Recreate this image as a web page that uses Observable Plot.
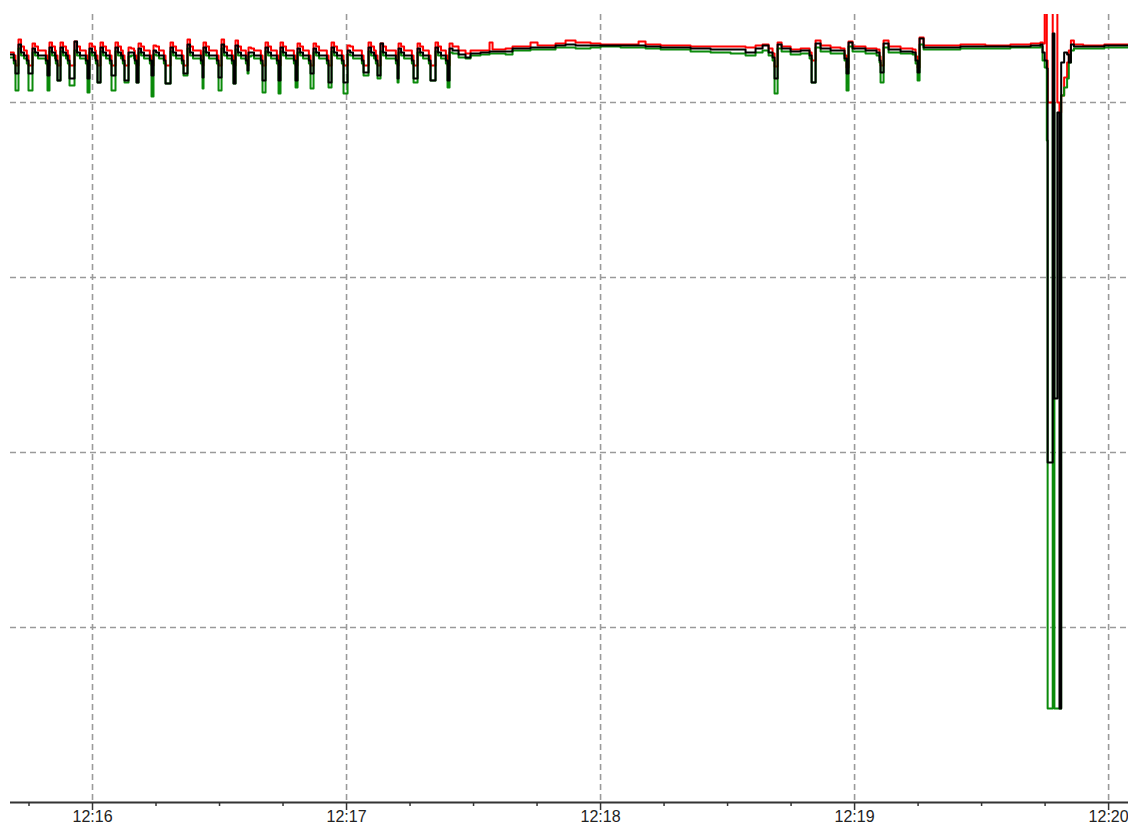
<!DOCTYPE html>
<html><head><meta charset="utf-8">
<script src="https://cdn.jsdelivr.net/npm/d3@7"></script>
<script src="https://cdn.jsdelivr.net/npm/@observablehq/plot@0.6"></script>
<style>html,body{margin:0;padding:0;background:#fff;overflow:hidden;}</style>
</head><body>
<script>
// seconds after 12:15:00
const times = [
40.6,
41.41,41.81,42.52,43.12,43.82,
44.48,44.88,45.83,46.43,47.13,
48.97,49.37,49.84,50.44,51.14,
51.33,51.73,52.44,53.04,53.74,
54.17,54.57,55.75,56.35,57.05,
58.42,58.82,59.29,59.89,60.59,
60.78,61.18,61.89,62.49,63.19,
64.09,64.49,65.43,66.03,66.73,
67.16,67.56,68.51,69.11,69.81,
70.00,70.40,70.87,71.47,72.17,
73.54,73.94,74.41,75.01,75.71,
76.85,77.25,78.43,79.03,79.73,
81.10,81.50,82.44,83.04,83.74,
85.59,85.99,86.22,86.82,87.52,
89.37,89.77,90.48,91.08,91.78,
92.91,93.31,93.78,94.38,95.08,
96.22,96.62,96.85,97.45,98.15,
99.76,100.16,100.87,101.47,102.17,
103.54,103.94,104.41,105.01,105.71,
107.56,107.96,108.43,109.03,109.73,
111.10,111.50,112.21,112.81,113.51,
115.35,115.75,116.46,117.06,117.76,
118.89,119.29,120.24,120.84,121.54,
123.62,124.02,125.20,125.80,126.50,
126.92,127.32,128.03,128.63,129.33,
131.65,132.05,132.29,132.89,133.59,
135.43,135.83,136.78,137.38,138.08,
139.44,139.84,141.02,141.62,142.32,
143.46,143.86,144.33,
145.04,146.46,148.11,149.29,151.65,153.78,154.49,157.56,159.21,163.46,
165.12,169.37,171.73,174.1,177.64,180.0,184.73,188.98,190.63,194.18,
201.26,205.99,210.71,214.25,216.61,218.27,219.69,220.63,221.1,221.82,
222.76,224.89,227.25,229.37,229.85,230.79,231.97,234.33,236.69,237.63,
238.1,238.58,239.52,242.59,245.19,245.9,246.14,246.85,248.03,250.86,
253.7,254.41,254.88,255.35,256.3,260.3,265.0,270.9,276.8,281.6,
283.9,
284.4,284.9,285.4,285.6,286.8,287.2,287.9,288.4,288.8,289.5,290.2,290.6,291.1,291.8,294.0,299.0,305.0
];
const red = [
750,
747,737,763,756,752,
747,737,759,756,752,
747,737,760,756,752,
747,737,760,756,752,
747,737,761,756,752,
747,737,759,756,752,
747,737,760,756,752,
747,737,760,756,752,
747,737,755,754,752,
747,737,759,756,752,
747,737,757,756,752,
747,737,760,756,752,
747,737,763,756,752,
747,737,760,756,752,
747,737,763,756,752,
747,737,762,756,752,
747,737,755,754,752,
747,737,760,756,752,
747,737,760,756,752,
747,737,759,756,752,
747,737,759,756,752,
747,737,760,756,752,
747,737,757,756,752,
747,737,760,756,752,
747,737,759,756,752,
747,737,759,756,752,
747,737,759,756,752,
747,737,760,756,752,
747,737,759,
756,752,749,752,752,760,753,754,756,760,
757,759,762,760,759,758,758,761,758,757,
756,756,756,755,757,758,754,749,736,760,
756,753,754,750,742,762,757,755,754,747,
735,761,756,754,753,746,737,762,756,754,
753,746,735,765,757,757,758,757,758,759,
760,
759,800,742,700,800,800,700,690,707,725,740,752,762,758,757,758,758
];
const black = [
748,
742,729,758,750,747,
742,729,754,750,747,
742,727,755,750,747,
742,722,755,750,747,
742,724,761,750,747,
742,724,754,750,747,
742,720,755,750,747,
742,727,755,750,747,
742,722,750,750,747,
742,720,754,750,747,
742,727,752,750,747,
742,719,755,750,747,
742,729,758,750,747,
742,725,755,750,747,
742,725,758,750,747,
742,719,757,750,747,
742,732,750,750,747,
742,722,755,750,747,
742,722,755,750,747,
742,722,754,750,747,
742,729,754,750,747,
742,720,755,750,747,
742,720,752,750,747,
742,730,755,750,747,
742,727,759,750,747,
742,724,754,750,747,
742,724,754,750,747,
742,722,755,750,747,
742,722,754,
752,748,745,749,750,751,751,751,754,755,
755,757,758,757,757,757,757,757,756,755,
754,753,753,750,754,757,750,745,724,758,
754,751,752,747,720,759,754,752,752,744,
729,760,754,752,750,742,730,759,753,751,
750,742,730,764,755,755,756,756,756,757,
758,
750,742,734,340,769,404,690,94,740,750,748,740,758,756,756,757,757
];
const green = [
745,
739,712,754,747,744,
739,712,750,747,744,
739,712,751,747,744,
739,722,751,747,744,
739,717,752,747,744,
739,710,750,747,744,
739,720,751,747,744,
739,712,751,747,744,
739,720,746,747,744,
739,720,750,747,744,
739,706,748,747,744,
739,719,751,747,744,
739,727,754,747,744,
739,714,751,747,744,
739,712,754,747,744,
739,719,753,747,744,
739,729,746,747,744,
739,710,751,747,744,
739,709,751,747,744,
739,715,750,747,744,
739,714,750,747,744,
739,715,751,747,744,
739,709,748,747,744,
739,727,751,747,744,
739,724,751,747,744,
739,720,750,747,744,
739,720,750,747,744,
739,722,751,747,744,
739,715,750,
749,745,744,747,748,749,749,748,752,753,
753,755,755,754,755,756,755,755,754,753,
751,750,749,747,750,752,747,742,709,754,
751,748,749,744,720,755,751,749,749,742,
712,756,751,749,747,740,720,755,750,749,
748,739,722,758,753,753,754,754,755,755,
756,
742,735,662,94,700,94,94,94,707,715,724,740,752,754,754,755,755
];
const xTickLabels = ["12:16","12:17","12:18","12:19","12:20"];
const yGrid = [175, 350, 525, 700];
const xStart = 40.63, xEnd = 304.7;
const yMax = 788;

if (!(times.length === red.length && red.length === black.length && black.length === green.length)) {
  throw new Error("length mismatch " + [times.length, red.length, black.length, green.length]);
}
const base = new Date(2000, 0, 1, 12, 15, 0);
const toDate = s => new Date(base.getTime() + s * 1000);
const rows = times.map((t, i) => ({t: toDate(t), r: red[i], b: black[i], g: green[i]}));
const majorTicks = xTickLabels.map(s => { const [h, m] = s.split(":").map(Number); return new Date(2000, 0, 1, h, m, 0); });
const minorTicks = d3.timeSecond.every(15).range(toDate(xStart), toDate(xEnd)).filter(d => d.getSeconds() !== 0);

const chart = Plot.plot({
  width: 1128, height: 827,
  marginLeft: 10, marginRight: 0, marginTop: 14, marginBottom: 25,
  style: {fontFamily: "'Liberation Sans', Arial, sans-serif", fontSize: "16px", background: "#fff", color: "#222"},
  x: {type: "time", domain: [toDate(xStart), toDate(xEnd)], axis: null},
  y: {domain: [0, yMax], axis: null},
  marks: [
    Plot.ruleY(yGrid, {stroke: "#9a9a9a", strokeWidth: 1.6, strokeDasharray: "6,4"}),
    Plot.ruleX(majorTicks, {stroke: "#9a9a9a", strokeWidth: 1.6, strokeDasharray: "6,4"}),
    Plot.line(rows, {x: "t", y: "r", stroke: "#ff0000", strokeWidth: 2, curve: "step-after", clip: true}),
    Plot.line(rows, {x: "t", y: "g", stroke: "#0a8a0a", strokeWidth: 2, curve: "step-after", clip: true}),
    Plot.line(rows, {x: "t", y: "b", stroke: "#000000", strokeWidth: 2, curve: "step-after", clip: true}),
    Plot.ruleY([0], {stroke: "#333", strokeWidth: 2}),
    Plot.ruleX(minorTicks, {y1: 0, y2: -4, stroke: "#333", strokeWidth: 1.5}),
    Plot.ruleX(majorTicks, {y1: 0, y2: -8, stroke: "#333", strokeWidth: 1.5}),
    Plot.text(majorTicks, {x: d => d, y: 0, text: (d, i) => xTickLabels[i], dy: 8, lineAnchor: "top", fontSize: 16, fill: "#222"})
  ]
});
document.body.appendChild(chart);
</script>
</body></html>
